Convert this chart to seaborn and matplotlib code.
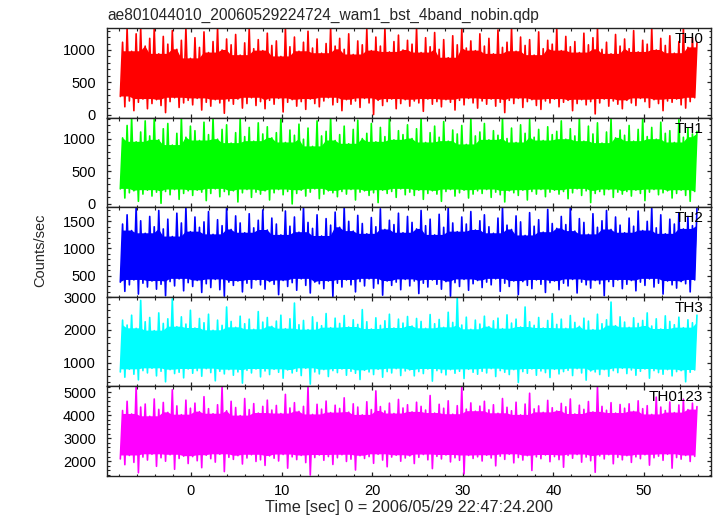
import matplotlib
matplotlib.use("Agg")
import matplotlib.pyplot as plt
import numpy as np
import pandas as pd
import seaborn as sns
from matplotlib.ticker import MultipleLocator

T_START, T_END = -7.8, 55.85

channels = ["TH0", "TH1", "TH2", "TH3", "TH0123"]
colors = ["#ff0000", "#00ff00", "#0000ff", "#00ffff", "#ff00ff"]

th0_peak = [
    1120, 1340, 980, 1250, 1340, 1060, 1180, 1340, 940, 1210, 1090, 1300, 1010, 1150, 1340, 870,
    1190, 1040, 1280, 960, 1130, 1340, 1000, 1170, 1080, 1240, 920, 1110, 1330, 1020, 1160, 990,
    1260, 1070, 1140, 900, 1340, 1050, 1200, 980, 1120, 1290, 1030, 1170, 950, 1100, 1340, 1060,
    1180, 1010, 1250, 930, 1140, 1080, 1320, 990, 1200, 1060, 1340, 970, 1130, 1230, 1000, 1150,
    1090, 1340, 960, 1190, 1050, 1270, 1010, 1160, 880, 1220, 1080, 1340, 1030, 1140, 990, 1250,
    1060, 1180, 940, 1310, 1040, 1120, 1340, 980, 1200, 1070, 1160, 920, 1280, 1020, 1150, 1090,
    1340, 990, 1210, 1050, 1130, 960, 1260, 1080, 1190, 1340, 1010, 1120, 940, 1240, 1060, 1170,
    1020, 1300, 970, 1150, 1090, 1340, 1000, 1180, 1070, 1220, 950, 1130, 1340, 1040, 1190, 1110,
]
th0_dip = [
    280, 120, 210, 60, 190, 240, 90, 170, 230, 140, 30, 200, 260, 110, 180, 220,
    150, 250, 70, 190, 130, 230, 180, 20, 210, 160, 240, 100, 170, 260, 140, 200,
    90, 220, 160, 250, 40, 190, 230, 130, 200, 80, 240, 170, 120, 210, 260, 150,
    190, 60, 230, 160, 210, 110, 250, 180, 0, 220, 140, 200, 240, 90, 170, 230,
    130, 210, 180, 50, 240, 160, 200, 120, 230, 190, 70, 220, 150, 250, 180, 100,
    210, 160, 240, 130, 190, 30, 220, 170, 250, 110, 200, 230, 140, 80, 210, 180,
    240, 120, 190, 220, 60, 170, 230, 150, 200, 10, 180, 240, 130, 210, 160, 90,
    220, 180, 140, 250, 200, 110, 230, 170, 60, 210, 190, 240, 150, 100, 200, 260,
]

th1_peak = [
    1010, 1200, 1320, 950, 1100, 1270, 1040, 1320, 980, 1150, 1230, 900, 1080, 1320, 1020, 1190,
    1120, 970, 1250, 1060, 1320, 990, 1140, 1210, 930, 1090, 1300, 1030, 1170, 960, 1240, 1070,
    1180, 1010, 1090, 1320, 940, 1130, 1050, 1220, 990, 1160, 880, 1270, 1040, 1110, 1320, 970,
    1060, 1190, 920, 1140, 1280, 1000, 1080, 1230, 950, 1170, 1030, 1320, 980, 1120, 1060, 1210,
    1000, 1150, 1320, 940, 1090, 1190, 1020, 1260, 960, 1130, 1070, 1200, 910, 1310, 1040, 1100,
    1230, 980, 1120, 1050, 1320, 1000, 1160, 940, 1210, 1080, 1290, 1020, 1140, 970, 1180, 1060,
    1110, 1270, 990, 1150, 1040, 1320, 960, 1190, 1070, 1240, 930, 1100, 1300, 1010, 1130, 1050,
    1200, 960, 1140, 1320, 1030, 1170, 990, 1250, 1080, 1120, 940, 1290, 1020, 1160, 1070, 1110,
]
th1_dip = [
    230, 90, 170, 200, 40, 150, 210, 120, 180, 10, 190, 140, 220, 70, 160, 200,
    130, 210, 180, 50, 160, 230, 110, 190, 140, 200, 30, 170, 220, 100, 180, 150,
    200, 60, 170, 220, 140, 190, 0, 160, 210, 120, 180, 230, 80, 150, 200, 170,
    110, 190, 150, 220, 60, 180, 200, 130, 170, 20, 210, 160, 190, 100, 230, 140,
    180, 130, 210, 70, 160, 200, 150, 40, 190, 220, 120, 170, 210, 90, 150, 200,
    160, 220, 100, 180, 140, 30, 200, 170, 130, 210, 60, 190, 150, 220, 110, 180,
    210, 150, 190, 80, 170, 230, 130, 200, 20, 160, 190, 140, 220, 100, 180, 150,
    190, 120, 210, 160, 50, 180, 220, 140, 170, 200, 90, 160, 210, 130, 40, 190,
]

th2_peak = [
    1450, 1620, 1330, 1760, 1510, 1280, 1590, 1400, 1700, 1360, 1540, 1220, 1650, 1470, 1760, 1310,
    1580, 1390, 1490, 1680, 1260, 1530, 1420, 1760, 1350, 1600, 1470, 1290, 1640, 1380, 1520, 1710,
    1340, 1560, 1450, 1250, 1690, 1410, 1580, 1300, 1760, 1480, 1370, 1620, 1230, 1550, 1430, 1670,
    1390, 1760, 1500, 1320, 1610, 1460, 1270, 1570, 1400, 1730, 1350, 1520, 1440, 1650, 1290, 1590,
    1480, 1360, 1700, 1420, 1540, 1250, 1630, 1390, 1760, 1470, 1310, 1580, 1450, 1680, 1340, 1510,
    1620, 1400, 1280, 1560, 1760, 1430, 1350, 1600, 1490, 1240, 1660, 1410, 1530, 1300, 1720, 1460,
    1370, 1590, 1440, 1760, 1320, 1550, 1480, 1260, 1640, 1390, 1510, 1700, 1350, 1580, 1430, 1290,
    1560, 1410, 1690, 1330, 1500, 1760, 1380, 1620, 1270, 1540, 1450, 1660, 1360, 1590, 1420, 1740,
]
th2_dip = [
    380, 210, 330, 420, 160, 360, 290, 400, 250, 340, 130, 390, 310, 440, 220, 370,
    300, 410, 190, 350, 280, 430, 240, 120, 380, 320, 400, 200, 360, 270, 420, 330,
    250, 390, 340, 150, 410, 300, 370, 230, 440, 320, 180, 380, 350, 260, 400, 110,
    360, 290, 420, 330, 200, 390, 310, 440, 270, 350, 140, 400, 320, 380, 240, 430,
    310, 400, 170, 360, 290, 420, 340, 250, 390, 120, 370, 300, 430, 230, 350, 410,
    280, 380, 330, 440, 210, 360, 300, 400, 150, 390, 320, 260, 420, 340, 190, 370,
    400, 240, 360, 310, 430, 180, 380, 330, 270, 410, 350, 130, 390, 300, 420, 260,
    340, 410, 220, 380, 320, 440, 290, 360, 160, 400, 330, 270, 390, 350, 200, 420,
]

th3_peak = [
    2300, 2150, 2450, 2050, 2900, 2250, 2380, 1980, 2520, 2200, 2340, 2950, 2100, 2400, 2180, 2600,
    2060, 2350, 2220, 2480, 1990, 2300, 2140, 2700, 2260, 2080, 2420, 2190, 2330, 2020, 2560, 2240,
    2380, 2110, 2270, 2450, 2040, 2340, 2820, 2160, 2290, 2010, 2400, 2230, 2130, 2500, 2070, 2360,
    2200, 2440, 2090, 2310, 2170, 2620, 2250, 2030, 2370, 2140, 2280, 2480, 2060, 2330, 2210, 2410,
    2120, 2350, 2260, 2050, 2470, 2190, 2320, 2080, 2540, 2230, 3000, 2150, 2390, 2020, 2300, 2180,
    2420, 2100, 2280, 2360, 2040, 2460, 2210, 2330, 2090, 2700, 2250, 2140, 2380, 2060, 2290, 2500,
    2170, 2330, 2050, 2440, 2230, 2110, 2360, 2270, 2010, 2480, 2190, 2310, 2850, 2130, 2400, 2240,
    2080, 2370, 2200, 2290, 2520, 2120, 2340, 2030, 2430, 2260, 2160, 2390, 2070, 2310, 2220, 2450,
]
th3_dip = [
    720, 560, 800, 650, 480, 760, 690, 830, 600, 740, 420, 790, 670, 710, 540, 810,
    680, 760, 590, 820, 700, 450, 740, 660, 790, 620, 720, 380, 770, 690, 810, 570,
    750, 640, 800, 710, 530, 780, 690, 740, 610, 830, 350, 720, 660, 790, 580, 760,
    700, 810, 620, 740, 680, 490, 770, 720, 640, 800, 560, 730, 690, 820, 610, 750,
    780, 600, 730, 670, 810, 440, 760, 700, 630, 790, 680, 740, 520, 800, 710, 650,
    740, 690, 820, 580, 760, 710, 640, 790, 400, 730, 680, 810, 620, 750, 700, 550,
    800, 660, 730, 770, 610, 820, 690, 470, 750, 720, 640, 790, 590, 760, 700, 830,
    670, 780, 620, 740, 810, 530, 760, 700, 650, 790, 600, 730, 760, 420, 710, 780,
]

th0123_peak = [
    4200, 4600, 4050, 5245, 4350, 4480, 3950, 4700, 4250, 4550, 4120, 5100, 4400, 4020, 4650, 4300,
    4520, 4150, 4800, 4280, 4060, 4450, 5245, 4190, 4600, 4330, 3980, 4720, 4240, 4500, 4090, 4380,
    4650, 4220, 4420, 4070, 4900, 4310, 4540, 4160, 4380, 5245, 4030, 4470, 4260, 4610, 4110, 4430,
    4290, 4750, 4130, 4490, 4350, 4010, 4580, 4240, 5050, 4370, 4180, 4520, 4070, 4680, 4310, 4450,
    4140, 4560, 4380, 4220, 4850, 4090, 4470, 4300, 4620, 4040, 4410, 5245, 4260, 4530, 4170, 4390,
    4600, 4230, 4450, 4080, 4720, 4340, 4190, 4560, 4010, 4480, 4950, 4270, 4400, 4120, 4640, 4320,
    4180, 4510, 4360, 4700, 4050, 4430, 4250, 4590, 4140, 5245, 4380, 4210, 4540, 4090, 4460, 4300,
    4490, 4160, 4620, 4280, 4410, 4030, 4780, 4350, 4200, 4570, 4110, 4440, 4690, 4240, 4520, 4370,
]
th0123_dip = [
    2100, 1850, 2250, 1950, 1500, 2180, 2050, 2300, 1780, 2150, 2000, 2280, 1650, 2120, 2220, 1900,
    2200, 2020, 1720, 2260, 2110, 1960, 2300, 1550, 2170, 2080, 2240, 1880, 2140, 2280, 1990, 2060,
    1820, 2230, 2130, 2010, 2290, 1700, 2190, 2070, 2250, 1940, 1400, 2160, 2270, 2040, 2200, 1860,
    2150, 2280, 1990, 2090, 1620, 2240, 2120, 2200, 1910, 2300, 2050, 1760, 2180, 2260, 2000, 2140,
    2230, 1900, 2170, 2290, 2060, 1680, 2210, 2100, 2270, 1970, 2150, 2040, 1450, 2250, 2120, 2190,
    2010, 2260, 2140, 1800, 2220, 2080, 2300, 1930, 2160, 2050, 2240, 1600, 2190, 2110, 2270, 1980,
    2200, 2070, 1740, 2250, 2130, 2290, 1960, 2180, 2020, 1520, 2230, 2100, 2280, 1890, 2170, 2060,
    2240, 1950, 2190, 2110, 2280, 1830, 2150, 2220, 2040, 2300, 1700, 2160, 2090, 2250, 1990, 2210,
]

peaks = [th0_peak, th1_peak, th2_peak, th3_peak, th0123_peak]
dips = [th0_dip, th1_dip, th2_dip, th3_dip, th0123_dip]

y_limits = [(-47, 1340), (-50, 1320), (110, 1760), (280, 3010), (1360, 5245)]
y_major = [500, 500, 500, 1000, 1000]
y_minor = [100, 100, 100, 200, 200]

sns.set_theme(style="ticks")
plt.rcParams["font.family"] = ["Liberation Sans", "DejaVu Sans"]
plt.rcParams["font.size"] = 10.5

fig, axes = plt.subplots(5, 1, figsize=(7.17, 5.16), dpi=100, sharex=True)
fig.subplots_adjust(left=107 / 717, right=711 / 717, top=1 - 28 / 516,
                    bottom=1 - 476 / 516, hspace=0)

for i, ax in enumerate(axes):
    counts = np.column_stack((dips[i], peaks[i])).ravel()
    t = np.linspace(T_START, T_END, len(counts))
    t_dip, t_peak = t[0::2], t[1::2]

    # solid core of the band: local floor of the peaks, local ceiling of the dips
    core_top = pd.Series(peaks[i]).rolling(5, center=True, min_periods=1).min().to_numpy()
    core_bot = pd.Series(dips[i]).rolling(5, center=True, min_periods=1).max().to_numpy()
    ax.fill(np.concatenate([t_peak, t_dip[::-1]]),
            np.concatenate([core_top, core_bot[::-1]]),
            color=colors[i], linewidth=0)

    sns.lineplot(x=t, y=counts, ax=ax, color=colors[i], linewidth=1.2,
                 estimator=None, sort=False)

    ax.set_xlim(-9.27, 57.4)
    ax.set_ylim(*y_limits[i])
    ax.yaxis.set_major_locator(MultipleLocator(y_major[i]))
    ax.yaxis.set_minor_locator(MultipleLocator(y_minor[i]))
    ax.xaxis.set_major_locator(MultipleLocator(10))
    ax.xaxis.set_minor_locator(MultipleLocator(2))
    ax.tick_params(which="both", direction="in", top=True, right=True,
                   color="#222222", labelsize=10.5, labelcolor="black")
    ax.tick_params(which="major", length=3.2, width=0.9)
    ax.tick_params(which="minor", length=1.8, width=0.8)
    ax.tick_params(axis="y", which="both", pad=8)
    ax.tick_params(axis="x", which="both", pad=6)
    for spine in ax.spines.values():
        spine.set_color("#222222")
        spine.set_linewidth(1.0)
    ax.set_ylabel("")
    ax.text(0.987, 0.955, channels[i], transform=ax.transAxes,
            ha="right", va="top", fontsize=11, color="black")

axes[0].set_title("ae801044010_20060529224724_wam1_bst_4band_nobin.qdp",
                  loc="left", fontsize=11.2, pad=6)
axes[-1].set_xlabel("Time [sec] 0 = 2006/05/29 22:47:24.200", fontsize=11.7,
                    labelpad=1)
fig.text(40 / 717, 1 - 250 / 516, "Counts/sec", rotation=90, ha="center",
         va="center", fontsize=10.5)

fig.savefig("out.png", dpi=100)
